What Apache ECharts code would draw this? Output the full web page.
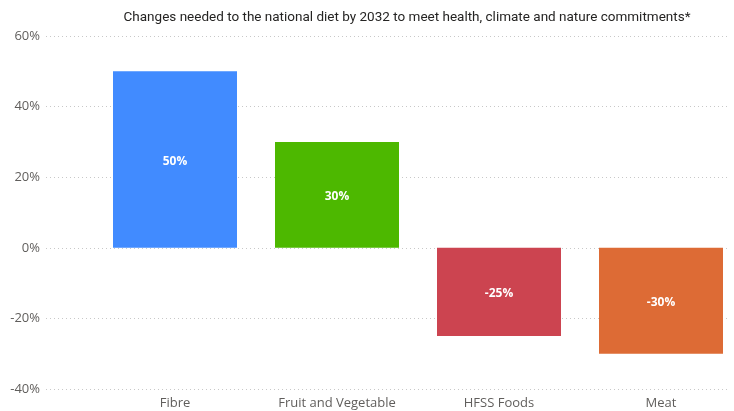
<!DOCTYPE html>
<html><head><meta charset="utf-8">
<script src="https://cdn.jsdelivr.net/npm/echarts@6/dist/echarts.min.js"></script>
<style>html,body{margin:0;padding:0;background:#fff}#c{width:734px;height:411px}</style>
</head><body><div id="c"></div>
<script>
const categories = ['Fibre', 'Fruit and Vegetable', 'HFSS Foods', 'Meat'];
const values = [50, 30, -25, -30];
const colors = ['#418BFF', '#4DB800', '#CC4450', '#DD6B35'];
const yTicks = [-40, -20, 0, 20, 40, 60];

const chart = echarts.init(document.getElementById('c'));
chart.setOption({
  animation: false,
  title: {
    text: 'Changes needed to the national diet by 2032 to meet health, climate and nature commitments*',
    left: 402, top: 6, textAlign: 'center',
    textStyle: { fontFamily: 'Roboto', fontSize: 13.5, fontWeight: 'normal', color: '#252423' }
  },
  grid: [
    { left: 46, right: 4, top: 36, bottom: 22 },
    { left: 175, width: 486, top: 36, bottom: 22 }
  ],
  xAxis: [
    { gridIndex: 0, type: 'value', show: false, min: 0, max: 1 },
    { gridIndex: 1, type: 'category', data: categories, boundaryGap: false,
      axisLine: { show: false }, axisTick: { show: false },
      axisLabel: { color: '#605E5C', fontFamily: 'Open Sans', fontSize: 13, margin: 8 } }
  ],
  yAxis: [
    { gridIndex: 0, type: 'value', min: yTicks[0], max: yTicks[yTicks.length - 1], interval: 20,
      axisLine: { show: false }, axisTick: { show: false },
      axisLabel: { color: '#605E5C', fontFamily: 'Open Sans', fontSize: 13, margin: 6, formatter: v => v + '%' },
      splitLine: { lineStyle: { type: [1, 3], color: '#C8C8C8', width: 1 } } },
    { gridIndex: 1, type: 'value', min: yTicks[0], max: yTicks[yTicks.length - 1], interval: 20, show: false,
      splitLine: { show: false } }
  ],
  series: [{
    type: 'bar', xAxisIndex: 1, yAxisIndex: 1, clip: false,
    data: values.map((v, i) => ({ value: v, itemStyle: { color: colors[i] } })),
    barWidth: 124,
    label: { show: true, position: 'inside', offset: [0, 2], color: '#fff', fontFamily: 'Open Sans', fontWeight: 'bold', fontSize: 12,
      formatter: p => p.value + '%' }
  }]
});
</script></body></html>
